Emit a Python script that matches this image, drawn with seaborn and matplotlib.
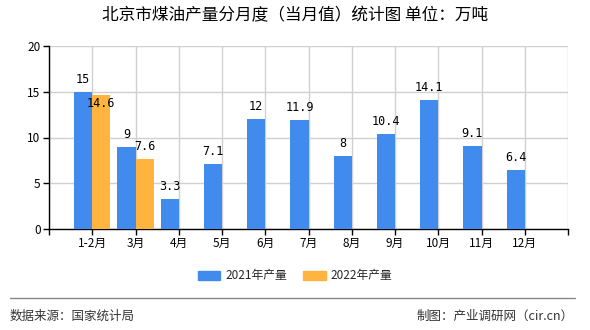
import numpy as np
import pandas as pd
import matplotlib
matplotlib.use("Agg")
import matplotlib.pyplot as plt
import seaborn as sns
from matplotlib.lines import Line2D

months = ["1-2月", "3月", "4月", "5月", "6月", "7月", "8月", "9月", "10月", "11月", "12月"]
prod_2021 = [15, 9, 3.3, 7.1, 12, 11.9, 8, 10.4, 14.1, 9.1, 6.4]
prod_2022 = [14.6, 7.6, np.nan, np.nan, np.nan, np.nan, np.nan, np.nan, np.nan, np.nan, np.nan]
series_names = ["2021年产量", "2022年产量"]
colors = ["#418BEE", "#FFB440"]
title = "北京市煤油产量分月度（当月值）统计图 单位：万吨"
yticks = [0, 5, 10, 15, 20]

sns.set_theme(style="white")
plt.rcParams['font.family'] = ['Noto Sans CJK SC', 'DejaVu Sans']

df = pd.DataFrame({
    "month": months * 2,
    "value": prod_2021 + prod_2022,
    "series": [series_names[0]] * len(months) + [series_names[1]] * len(months),
})

fig = plt.figure(figsize=(5.9, 3.3), dpi=100)
ax = fig.add_axes([49/590, 1 - 229/330, 519/590, 183/330])

sns.barplot(data=df, x="month", y="value", hue="series", order=months,
            hue_order=series_names, palette=colors, width=0.84, gap=0,
            saturation=1, ax=ax, legend=False, zorder=3, linewidth=0,
            edgecolor="none")

ax.set_xlim(-1, len(months))
ax.set_ylim(0, 20)
ax.set_yticks(yticks)
ax.set_xticks(range(-1, len(months) + 1), minor=False)
ax.set_xticklabels([""] + months + [""])
ax.grid(True, color="#D0D0D0", linewidth=1, zorder=0)
ax.set_axisbelow(True)
ax.set_xlabel("")
ax.set_ylabel("")
for s in ["top", "right"]:
    ax.spines[s].set_visible(False)
for s in ["left", "bottom"]:
    ax.spines[s].set_color("black")
    ax.spines[s].set_linewidth(1)
ax.tick_params(axis="both", which="both", length=4, width=1, color="black",
               labelsize=8.5, labelcolor="black", pad=2, direction="out")
ax.tick_params(axis="x", bottom=True)
ax.tick_params(axis="y", left=True)

# value labels
for ci, cont in enumerate(ax.containers):
    vals = prod_2021 if ci == 0 else prod_2022
    for bar, v in zip(cont, vals):
        if v is None or (isinstance(v, float) and np.isnan(v)):
            continue
        x = bar.get_x() + bar.get_width() / 2
        off = 9
        if ci == 1 and v > 14:
            off = -6
        ax.annotate(f"{v:g}", (x, v), xytext=(0, off), textcoords="offset points",
                    ha="center", va="center", fontsize=8.5, color="black",
                    family=['DejaVu Sans Mono', 'Noto Sans CJK SC'])

fig.text(0.5, 1 - 16/330, title, ha="center", va="center", fontsize=12, color="black")

handles = [plt.Rectangle((0, 0), 1, 1, color=c) for c in colors]
fig.legend(handles, series_names, loc="center", bbox_to_anchor=(0.5, 1 - 276/330),
           ncol=2, frameon=False, fontsize=8.5, handlelength=1.9, handleheight=0.7,
           columnspacing=1.4, handletextpad=0.4)

fig.add_artist(Line2D([10/590, 575/590], [1 - 298/330, 1 - 298/330],
                      color="#888888", linewidth=1))
fig.text(10/590, 1 - 316/330, "数据来源：国家统计局", ha="left", va="center", fontsize=9, color="#333333")
fig.text(574/590, 1 - 316/330, "制图：产业调研网（cir.cn）", ha="right", va="center", fontsize=9, color="#333333")

fig.savefig("out.png", dpi=100)
